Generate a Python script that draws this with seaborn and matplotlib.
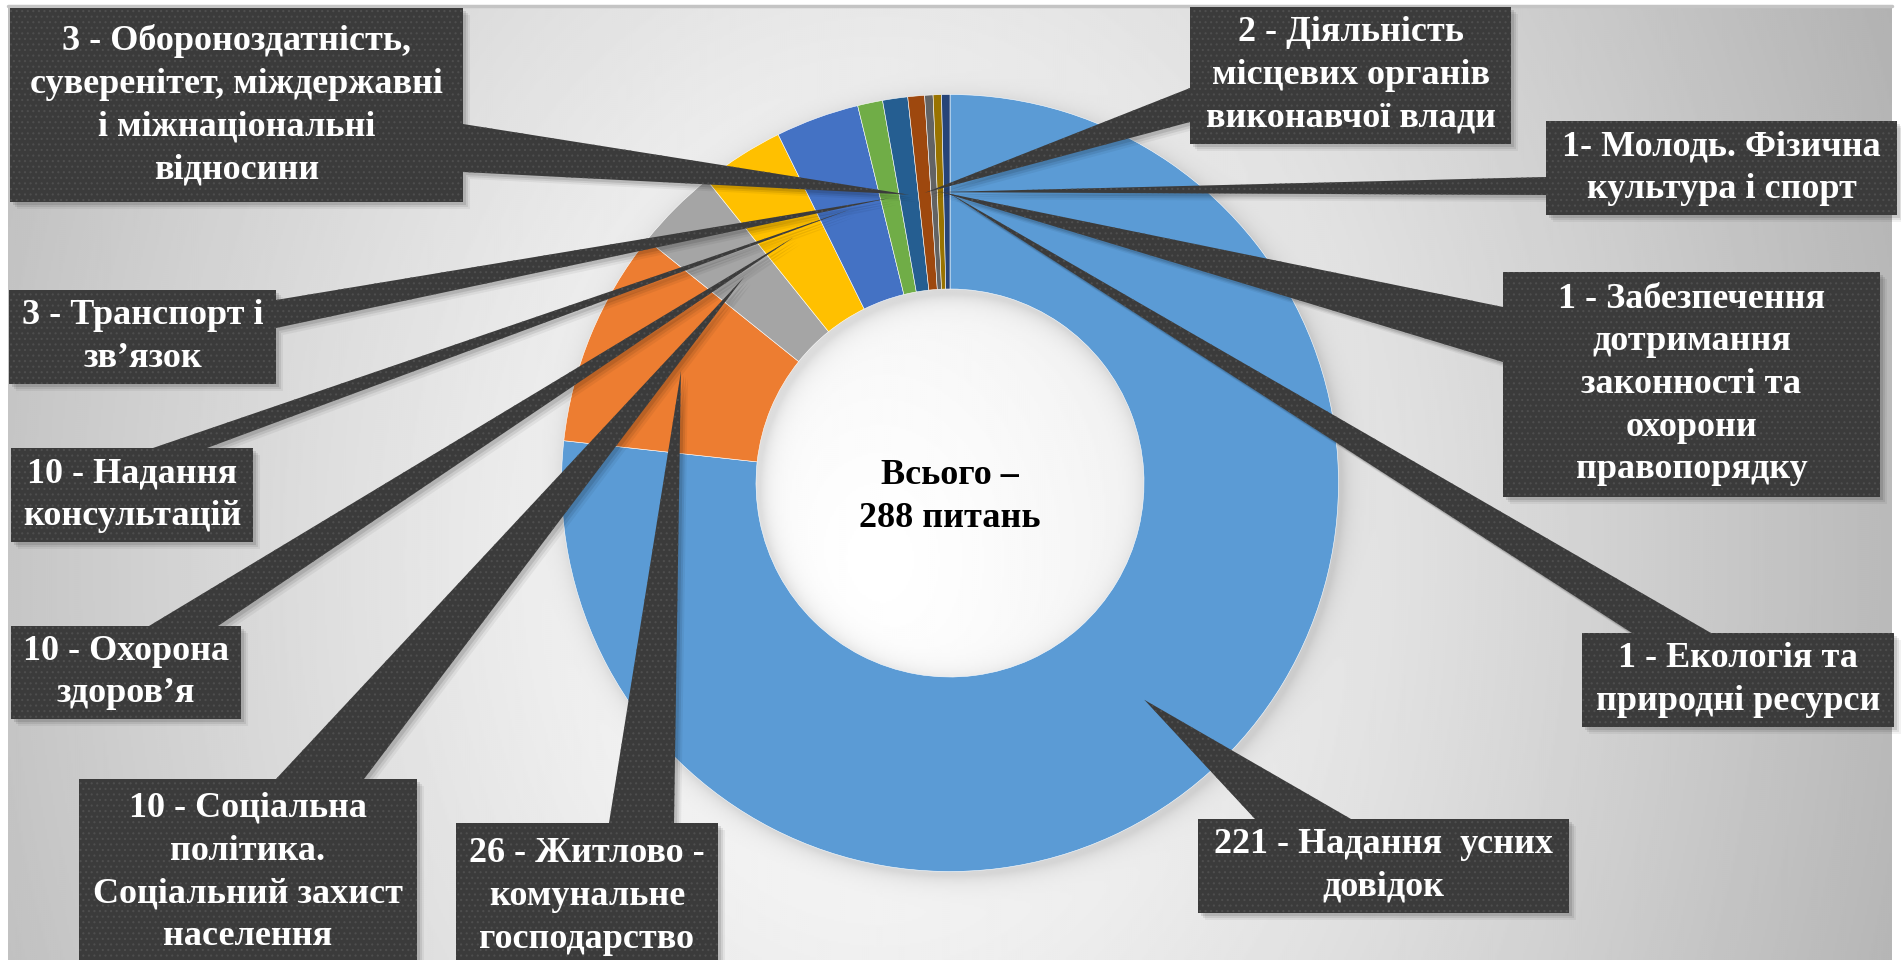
import numpy as np
import matplotlib
matplotlib.use("Agg")
import matplotlib.pyplot as plt
from matplotlib.patches import Rectangle, Polygon
import seaborn as sns

# Questions by topic, clockwise from the top of the ring
values = [221, 26, 10, 10, 10, 3, 3, 2, 1, 1, 1]
labels = [
    "221 - Надання  усних\nдовідок",
    "26 - Житлово -\nкомунальне\nгосподарство",
    "10 - Соціальна\nполітика.\nСоціальний захист\nнаселення",
    "10 - Охорона\nздоров’я",
    "10 - Надання\nконсультацій",
    "3 - Транспорт і\nзв’язок",
    "3 - Обороноздатність,\nсуверенітет, міждержавні\nі міжнаціональні\nвідносини",
    "2 - Діяльність\nмісцевих органів\nвиконавчої влади",
    "1- Молодь. Фізична\nкультура і спорт",
    "1 - Забезпечення\nдотримання\nзаконності та\nохорони\nправопорядку",
    "1 - Екологія та\nприродні ресурси",
]
colors = ["#5B9BD5", "#ED7D31", "#A5A5A5", "#FFC000", "#4472C4", "#70AD47",
          "#255E91", "#9E480E", "#636363", "#997300", "#264478"]

# callout boxes (x0, x1, y0, y1 in pixels from top-left)
boxes = [
    (1198, 1569, 819, 913),
    (456, 718, 823, 970),
    (79, 417, 779, 966),
    (11, 241, 626, 719),
    (11, 253, 448, 542),
    (9, 276, 290, 384),
    (10, 463, 8, 202),
    (1190, 1511, 7, 144),
    (1546, 1897, 121, 215),
    (1503, 1880, 272, 497),
    (1582, 1894, 633, 727),
]
# where each pointer leaves its box
bases = [
    ((1255, 819), (1351, 819)),
    ((609, 823), (674, 823)),
    ((276, 779), (364, 779)),
    ((149, 626), (218, 626)),
    ((153, 448), (207, 448)),
    ((276, 300), (276, 328)),
    ((463, 124), (463, 172)),
    ((1190, 88), (1190, 122)),
    ((1546, 177), (1546, 195)),
    ((1503, 307), (1503, 362)),
    ((1632, 633), (1711, 633)),
]

W, H = 1901, 960
cx, cy, R, ring = 950, 483, 388.5, 194.5
box_color = "#3b3b3b"


def Y(y):
    return H - y


sns.set_theme(style="white")
plt.rcParams['font.family'] = ['Liberation Serif', 'DejaVu Serif']
plt.rcParams['hatch.linewidth'] = 0.8

fig = plt.figure(figsize=(W / 100, H / 100), dpi=100, facecolor="white")
ax = fig.add_axes([0, 0, 1, 1])

# slide background: soft radial gradient plus a blurred shadow of the ring
gx, gy = np.meshgrid(np.linspace(8, 1892, 943), np.linspace(6, 960, 477))
t = np.hypot((gx - 880) / 1000, (gy - 560) / 1300)
shade = 255 - 55 * (t / 0.84) ** 1.26
d = np.hypot(gx - (cx + 4), gy - (cy + 5))
dist = np.maximum(d - R, (R - ring) - d)
shade -= np.where(dist > 0, 28 * np.exp(-dist / 9), 28)
ax.imshow(shade, cmap="gray", vmin=0, vmax=255, extent=(8, 1892, Y(960), Y(6)),
          interpolation="bilinear", zorder=0, aspect="auto")
ax.plot([8, 1892], [Y(6), Y(6)], color="#c4c4c4", lw=2.5, zorder=1)

wedges, _ = ax.pie(values, colors=colors, startangle=90, counterclock=False,
                   center=(cx, Y(cy)), radius=R,
                   wedgeprops=dict(width=ring, edgecolor="white", linewidth=0.4))
for w in wedges:
    w.set_zorder(2)

total = sum(values)
ax.text(cx, Y(497), f"Всього –\n{total} питань", ha="center", va="center",
        fontsize=26, fontweight="bold", color="black", linespacing=1.4, zorder=6)

for w, (x0, x1, y0, y1), (b1, b2), text in zip(wedges, boxes, bases, labels):
    mid = np.deg2rad((w.theta1 + w.theta2) / 2)
    rm = w.r - w.width / 2
    tip = (w.center[0] + rm * np.cos(mid), w.center[1] + rm * np.sin(mid))
    pts = [(b1[0], Y(b1[1])), (b2[0], Y(b2[1])), tip]

    # shadows
    for off, a in [(3, 0.10), (5, 0.08), (7, 0.05)]:
        ax.add_patch(Polygon([(px + off, py - off) for px, py in pts],
                             fc="black", ec="none", alpha=a, zorder=3))
        ax.add_patch(Rectangle((x0 + off, Y(y1) - off), x1 - x0, y1 - y0,
                               fc="black", ec="none", alpha=a, zorder=3))

    ax.add_patch(Polygon(pts, fc=box_color, ec="#4e4e4e", lw=0,
                         hatch="...", zorder=4))
    ax.add_patch(Rectangle((x0, Y(y1)), x1 - x0, y1 - y0, fc=box_color,
                           ec="#4e4e4e", lw=0, hatch="...", zorder=5))
    ax.text((x0 + x1) / 2, Y((y0 + y1) / 2), text, ha="center", va="center",
            fontsize=26, fontweight="bold", color="white", linespacing=1.39,
            zorder=6)

ax.set_xlim(0, W)
ax.set_ylim(0, H)
ax.set_aspect("equal")
ax.axis("off")

fig.savefig("out.png", dpi=100, facecolor="white")
